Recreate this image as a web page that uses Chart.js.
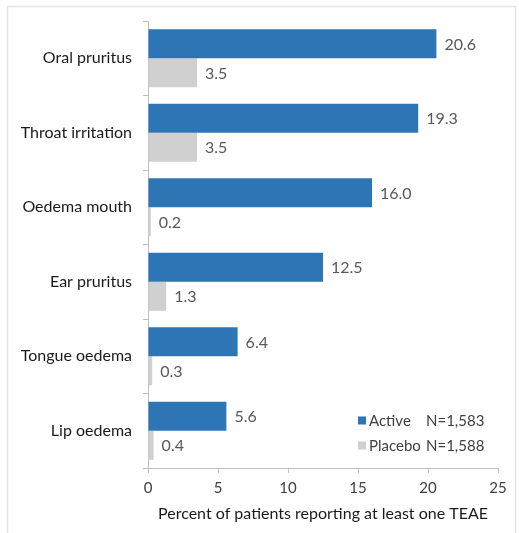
<!DOCTYPE html>
<html>
<head>
<meta charset="utf-8">
<script src="https://cdn.jsdelivr.net/npm/chart.js@4/dist/chart.umd.min.js"></script>
<style>
  html, body { margin: 0; padding: 0; background: #fff; }
  #wrap { position: relative; width: 519px; height: 533px; }
  canvas { display: block; }
</style>
</head>
<body>
<div id="wrap"><canvas id="c" width="519" height="533"></canvas></div>
<script>
const categories = ['Oral pruritus', 'Throat irritation', 'Oedema mouth', 'Ear pruritus', 'Tongue oedema', 'Lip oedema'];
const activeValues = [20.6, 19.3, 16.0, 12.5, 6.4, 5.6];
const placeboValues = [3.5, 3.5, 0.2, 1.3, 0.3, 0.4];
const seriesNames = ['Active', 'Placebo'];
const seriesN = ['N=1,583', 'N=1,588'];
const xTicks = [0, 5, 10, 15, 20, 25];
const xTitle = 'Percent of patients reporting at least one TEAE';

const FONT = 'Lato, "Open Sans", sans-serif';
const colors = ['#2E75B6', '#D0D0D0'];

const frame = {
  id: 'frame',
  beforeDraw(chart) {
    const ctx = chart.ctx;
    ctx.save();
    ctx.strokeStyle = '#e4e4e4';
    ctx.lineWidth = 1.5;
    ctx.strokeRect(7.5, 6.5, 508, 540);
    ctx.restore();
  }
};

const valueLabels = {
  id: 'valueLabels',
  afterDatasetsDraw(chart) {
    const ctx = chart.ctx;
    ctx.save();
    ctx.font = '16px ' + FONT;
    ctx.fillStyle = '#595959';
    ctx.textAlign = 'left';
    ctx.textBaseline = 'middle';
    chart.data.datasets.forEach((ds, i) => {
      const meta = chart.getDatasetMeta(i);
      meta.data.forEach((bar, j) => {
        ctx.fillText(ds.data[j].toFixed(1), bar.x + 8, bar.y + 1);
      });
    });
    ctx.restore();
  }
};

const legendBox = {
  id: 'legendBox',
  afterDraw(chart) {
    const ctx = chart.ctx;
    ctx.save();
    ctx.font = '15px ' + FONT;
    ctx.textBaseline = 'middle';
    ctx.textAlign = 'left';
    const ys = [421, 446];
    seriesNames.forEach((name, i) => {
      ctx.fillStyle = colors[i];
      ctx.fillRect(358, ys[i] - 4.5, 8, 8);
      ctx.fillStyle = '#404040';
      ctx.fillText(name, 369, ys[i]);
      const w = ctx.measureText(name).width;
      const nx = Math.max(426, 369 + w + 5);
      ctx.fillText(seriesN[i], nx, ys[i]);
    });
    ctx.restore();
  }
};

new Chart(document.getElementById('c'), {
  type: 'bar',
  data: {
    labels: categories,
    datasets: [
      { label: seriesNames[0], data: activeValues, backgroundColor: colors[0] },
      { label: seriesNames[1], data: placeboValues, backgroundColor: colors[1] }
    ]
  },
  options: {
    indexAxis: 'y',
    responsive: false,
    animation: false,
    devicePixelRatio: 1,
    categoryPercentage: 0.78,
    barPercentage: 1.0,
    layout: { padding: { top: 21, right: 21, left: 0, bottom: 0 } },
    plugins: {
      legend: { display: false },
      tooltip: { enabled: false }
    },
    scales: {
      x: {
        min: 0, max: 25,
        afterBuildTicks(scale) { scale.ticks = xTicks.map(v => ({ value: v })); },
        afterFit(scale) { scale.height = 533 - 468; },
        grid: { drawOnChartArea: false, drawTicks: true, tickLength: 5, color: '#bfbfbf' },
        border: { display: true, color: '#bfbfbf', width: 1 },
        ticks: { font: { size: 15, family: FONT }, color: '#404040', padding: 6 },
        title: { display: true, text: xTitle, font: { size: 16, family: FONT }, color: '#1a1a1a', padding: { top: 2, bottom: 10 } }
      },
      y: {
        afterFit(scale) { scale.width = 148; },
        grid: { drawOnChartArea: false, drawTicks: true, tickLength: 5, color: '#bfbfbf', offset: true },
        border: { display: true, color: '#bfbfbf', width: 1 },
        ticks: { font: { size: 16, family: FONT }, color: '#1a1a1a', padding: 11 }
      }
    }
  },
  plugins: [frame, valueLabels, legendBox]
});
</script>
</body>
</html>
